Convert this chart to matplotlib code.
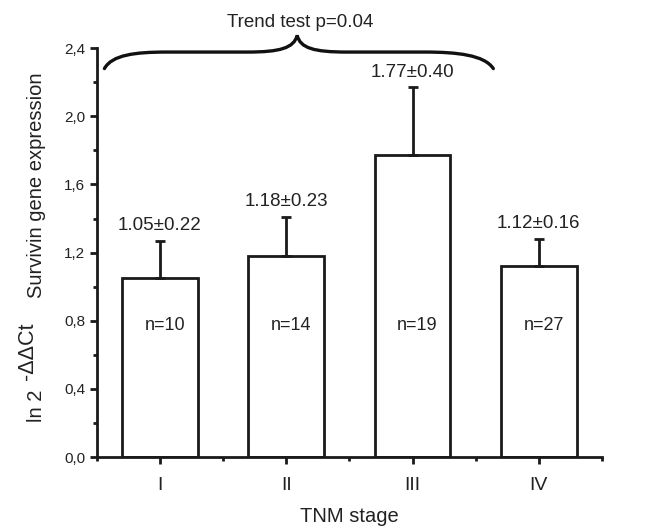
import numpy as np
import matplotlib.pyplot as plt
from matplotlib.path import Path
from matplotlib.patches import PathPatch
from matplotlib.ticker import FuncFormatter, MultipleLocator

plt.rcParams['font.family'] = ['Liberation Sans', 'DejaVu Sans']

# Data
stages = ['I', 'II', 'III', 'IV']
means = np.array([1.05, 1.18, 1.77, 1.12])
errs = np.array([0.22, 0.23, 0.40, 0.16])
counts = [10, 14, 19, 27]

x = np.arange(1, len(stages) + 1)

fig = plt.figure(figsize=(6.5, 5.29), dpi=100)
ax = fig.add_axes([0.149, 0.136, 0.777, 0.773])

ax.bar(x, means, width=0.6, color='white', edgecolor='#1a1a1a', linewidth=2)
ax.errorbar(x, means, yerr=[np.zeros_like(errs), errs], fmt='none',
            ecolor='#1a1a1a', elinewidth=2, capsize=3.5, capthick=2)

for xi, m, e, n in zip(x, means, errs, counts):
    ax.text(xi, m + e + 0.04, f'{m:.2f}±{e:.2f}', ha='center', va='bottom',
            fontsize=13.5, color='#222222')
    ax.text(xi + 0.04, 0.77, f'n={n}', ha='center', va='center',
            fontsize=13, color='#222222')

ax.set_xlim(0.5, 4.5)
ax.set_ylim(0, 2.4)
ax.set_xticks(x)
ax.set_xticklabels(stages, fontsize=14, color='#222222')
ax.xaxis.set_minor_locator(MultipleLocator(1, offset=0.5))
ax.yaxis.set_major_locator(MultipleLocator(0.4))
ax.yaxis.set_minor_locator(MultipleLocator(0.2))
ax.yaxis.set_major_formatter(FuncFormatter(lambda v, p: f'{v:.1f}'.replace('.', ',')))
ax.tick_params(axis='y', labelsize=11, labelcolor='#222222')
ax.tick_params(which='major', direction='out', length=5, width=2, color='#1a1a1a')
ax.tick_params(which='minor', direction='out', length=3, width=2, color='#1a1a1a')
ax.tick_params(axis='x', which='major', pad=9)
for s in ['top', 'right']:
    ax.spines[s].set_visible(False)
for s in ['left', 'bottom']:
    ax.spines[s].set_linewidth(2)
    ax.spines[s].set_color('#1a1a1a')

ax.set_xlabel('TNM stage', fontsize=14.5, labelpad=10, color='#222222')

# y label in three pieces (superscript same size)
fig.text(0.056, 1 - 422 / 529, 'ln 2', rotation=90, ha='center', va='bottom',
         fontsize=14.5, color='#222222')
fig.text(0.042, 1 - 380 / 529, '-ΔΔCt', rotation=90, ha='center', va='bottom',
         fontsize=15.5, color='#222222')
fig.text(0.056, 1 - 298 / 529, 'Survivin gene expression', rotation=90, ha='center',
         va='bottom', fontsize=14.5, color='#222222')

# brace over stages I-III
verts = [(0.56, 2.28), (0.62, 2.36), (0.80, 2.377), (1.05, 2.377),
         (1.69, 2.377),
         (1.95, 2.377), (2.06, 2.40), (2.087, 2.475),
         (2.11, 2.40), (2.22, 2.377), (2.48, 2.377),
         (3.10, 2.377),
         (3.35, 2.377), (3.57, 2.36), (3.64, 2.28)]
codes = [Path.MOVETO, Path.CURVE4, Path.CURVE4, Path.CURVE4,
         Path.LINETO,
         Path.CURVE4, Path.CURVE4, Path.CURVE4,
         Path.CURVE4, Path.CURVE4, Path.CURVE4,
         Path.LINETO,
         Path.CURVE4, Path.CURVE4, Path.CURVE4]
ax.add_patch(PathPatch(Path(verts, codes), facecolor='none', edgecolor='#111111',
                       linewidth=2.4, clip_on=False, capstyle='round'))
ax.text(2.11, 2.55, 'Trend test p=0.04', ha='center', va='center', fontsize=13.5,
        color='#222222', clip_on=False)

fig.savefig('out.png', dpi=100)
